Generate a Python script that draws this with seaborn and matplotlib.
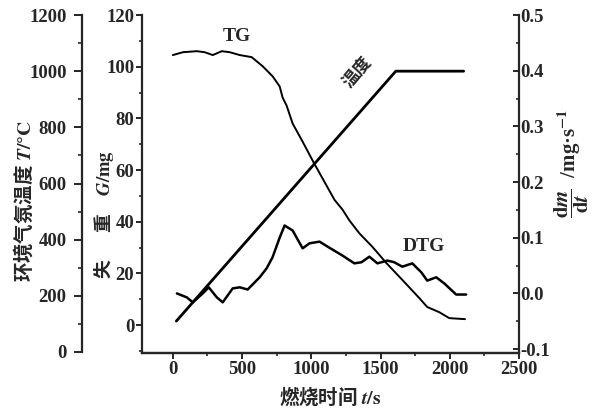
import matplotlib
matplotlib.use("Agg")
import matplotlib.pyplot as plt
import seaborn as sns
from matplotlib.ticker import MultipleLocator, FormatStrFormatter

# ---- data ----
time_tg = [0, 72, 173, 230, 288, 353, 411, 483, 569, 648, 720, 771, 793, 821, 865,
           937, 1016, 1167, 1225, 1275, 1347, 1441, 1542, 1657, 1779, 1837, 1924, 1996, 2110]
tg_mass = [104.5, 105.6, 106, 105.6, 104.5, 106, 105.6, 104.5, 103.7, 100.2, 96.3, 92.4, 88, 85, 78,
           71, 63, 48.5, 44.7, 40.5, 35.5, 30.3, 24, 17.5, 10.5, 7, 5, 2.7, 2.3]

time_dtg = [29, 100, 144, 216, 259, 317, 360, 432, 483, 540, 627, 677, 720, 771, 807, 865,
            937, 987, 1059, 1131, 1225, 1311, 1362, 1419, 1477, 1549, 1599, 1657, 1729, 1794,
            1837, 1902, 1960, 2046, 2118]
dtg_rate = [0.0, -0.007, -0.016, 0.0, 0.011, -0.007, -0.016, 0.009, 0.011, 0.007, 0.029, 0.045,
            0.065, 0.10, 0.122, 0.113, 0.081, 0.09, 0.093, 0.082, 0.068, 0.054, 0.056, 0.066,
            0.054, 0.059, 0.056, 0.048, 0.054, 0.038, 0.023, 0.029, 0.018, -0.002, -0.002]

time_temp = [25, 1610, 2100]
temp_c = [110, 1000, 1000]

# ---- style ----
sns.set_style("ticks")
plt.rcParams['font.family'] = ['Liberation Serif', 'Noto Sans CJK SC', 'DejaVu Sans']
plt.rcParams['font.weight'] = 'bold'
plt.rcParams['mathtext.fontset'] = 'stix'
plt.rcParams['axes.linewidth'] = 1.6

SERIF = ['Liberation Serif', 'DejaVu Serif']
CJK = ['Noto Sans CJK SC', 'DejaVu Sans']
TICK_FS = 13.5

fig = plt.figure(figsize=(6.05, 4.09), dpi=100)
ax = fig.add_axes([0.2347, 0.1369, 0.6232, 0.8264])
ax_r = ax.twinx()
ax_t = ax.twinx()

# lines
sns.lineplot(x=time_tg, y=tg_mass, ax=ax, color='black', lw=1.4)
sns.lineplot(x=time_dtg, y=dtg_rate, ax=ax_r, color='black', lw=1.8)
sns.lineplot(x=time_temp, y=temp_c, ax=ax_t, color='black', lw=2.0)

# limits
ax.set_xlim(-223, 2500)
ax.set_ylim(-10.8, 120)
ax_r.set_ylim(-0.107, 0.5)
ax_t.set_ylim(-3.6, 1200)

# spines
ax.spines['top'].set_visible(False)
ax.spines['right'].set_visible(False)
ax_r.spines['top'].set_visible(False)
ax_r.spines['left'].set_visible(False)
ax_t.spines['top'].set_visible(False)
ax_t.spines['right'].set_visible(False)
ax_t.spines['bottom'].set_visible(False)
ax_t.spines['left'].set_visible(True)
ax_t.spines['left'].set_position(('outward', 43.2))
ax_t.spines['left'].set_bounds(0, 1200)
ax_t.yaxis.set_ticks_position('left')
ax_t.yaxis.set_label_position('left')

# locators
ax.xaxis.set_major_locator(MultipleLocator(500))
ax.xaxis.set_minor_locator(MultipleLocator(250))
ax.yaxis.set_major_locator(MultipleLocator(20))
ax.yaxis.set_minor_locator(MultipleLocator(10))
ax_r.yaxis.set_major_locator(MultipleLocator(0.1))
ax_r.yaxis.set_minor_locator(MultipleLocator(0.05))
ax_r.yaxis.set_major_formatter(FormatStrFormatter('%.1f'))
ax_t.yaxis.set_major_locator(MultipleLocator(200))
ax_t.yaxis.set_minor_locator(MultipleLocator(100))

ax.tick_params(axis='x', which='major', direction='out', length=4, width=1.4, pad=2)
ax.tick_params(axis='x', which='minor', direction='out', length=2, width=1.2)
ax.tick_params(axis='y', which='major', direction='out', length=4, width=1.4, pad=1.5)
ax.tick_params(axis='y', which='minor', direction='out', length=2, width=1.2)
ax_r.tick_params(axis='y', which='major', direction='in', length=4, width=1.4, pad=1)
ax_r.tick_params(axis='y', which='minor', direction='in', length=2, width=1.2)
ax_t.tick_params(axis='y', which='major', direction='out', length=6, width=1.4, pad=5)
ax_t.tick_params(axis='y', which='minor', direction='out', length=3, width=1.2)

for a in (ax, ax_r, ax_t):
    for lab in a.get_xticklabels() + a.get_yticklabels():
        lab.set_fontfamily(SERIF)
        lab.set_fontweight('bold')
        lab.set_fontsize(TICK_FS)

# axis labels
ax.set_xlabel('燃烧时间 $\\mathbfit{t}\\mathbf{/s}$', family=CJK, fontsize=14, fontweight='bold',
              labelpad=4)
ax_t.set_ylabel('环境气氛温度 $\\mathbfit{T}\\mathbf{/°C}$', family=CJK, fontsize=14, fontweight='bold')
ax_t.yaxis.set_label_coords(-0.316, 0.45)
ax_t.yaxis.label.set_verticalalignment('center')
ax.set_ylabel('失\u3000  重\u3000$\\mathbfit{G}\\mathbf{/mg}$', family=CJK, fontsize=13.5,
              fontweight='bold')
ax.yaxis.set_label_coords(-0.101, 0.41)
ax.yaxis.label.set_verticalalignment('center')
ax_r.set_ylabel('$\\dfrac{\\mathbf{d}\\mathbfit{m}}{\\mathbf{d}\\mathbfit{t}}$  /mg\u00b7s$^{\\mathbf{-1}}$',
                family=SERIF, fontsize=15, fontweight='bold')
ax_r.yaxis.set_label_coords(1.141, 0.56)
ax_r.yaxis.label.set_verticalalignment('center')
ax_r.yaxis.label.set_rotation(90)

# annotations
ax.text(0.252, 0.935, 'TG', transform=ax.transAxes, ha='center', va='center',
        family=SERIF, fontsize=14, fontweight='bold')
ax.text(0.748, 0.314, 'DTG', transform=ax.transAxes, ha='center', va='center',
        family=SERIF, fontsize=14, fontweight='bold')
ax.text(0.573, 0.831, '温度', transform=ax.transAxes, ha='center', va='center',
        family=CJK, fontsize=12.5, fontweight='bold', rotation=50)

fig.savefig('out.png', dpi=100)
